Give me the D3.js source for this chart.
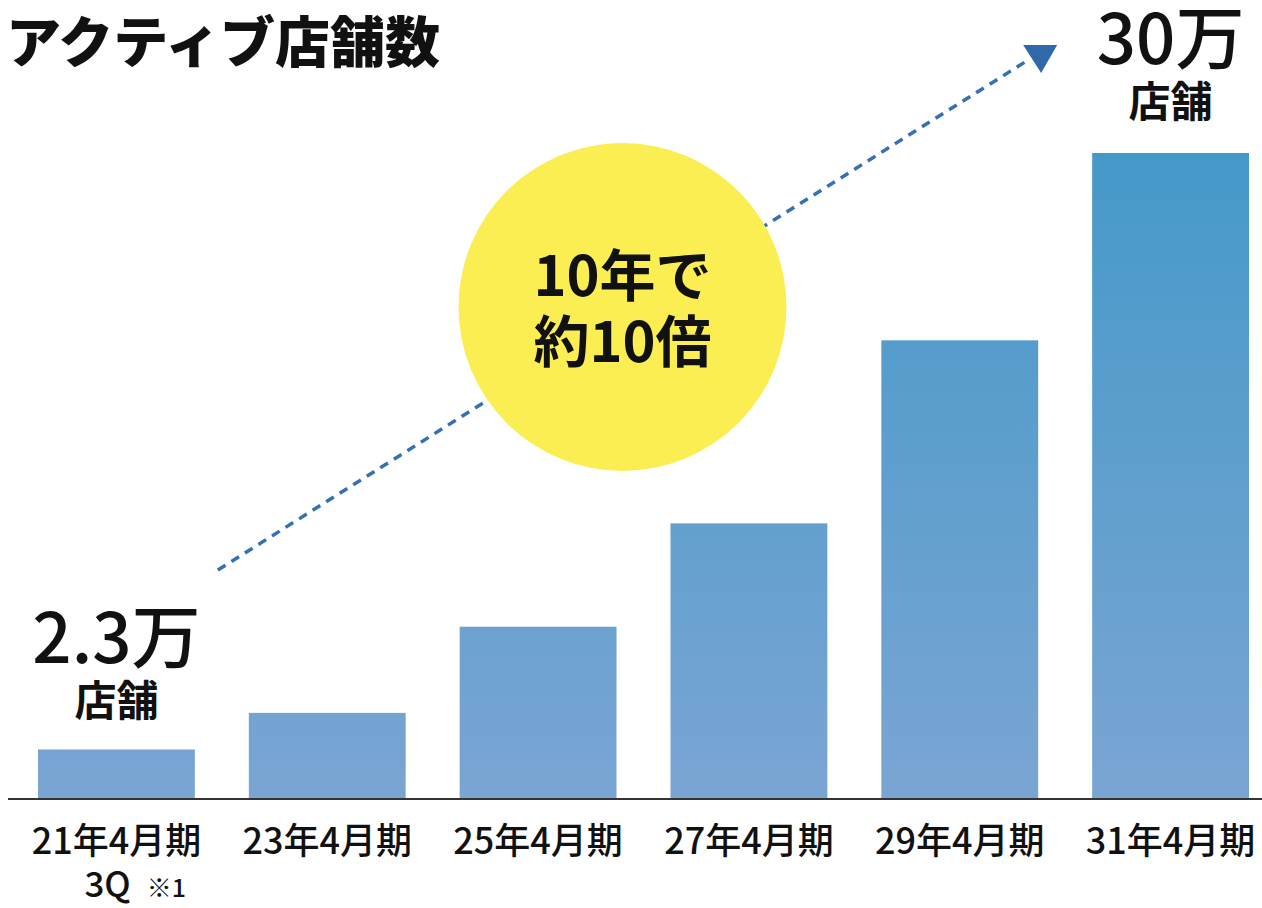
<!DOCTYPE html>
<html>
<head>
<meta charset="utf-8">
<script src="https://cdn.jsdelivr.net/npm/d3@7"></script>
<style>
  body { margin: 0; background: #fff; }
  text { font-family: "Noto Sans CJK JP", "Noto Sans", sans-serif; fill: #111; }
</style>
</head>
<body>
<div id="chart-area"></div>
<script>
// data (値は万店舗)
const categories = ["21年4月期", "23年4月期", "25年4月期", "27年4月期", "29年4月期", "31年4月期"]
const subLabels = ["3Q", "", "", "", "", ""]
const values = [2.3, 4.0, 8.0, 12.8, 21.3, 30]
const firstLabel = ["2.3万", "店舗"]
const lastLabel = ["30万", "店舗"]
const bubbleLines = ["10年で", "約10倍"]
const title = "アクティブ店舗数"

function drawChart() {
    const svgWidth = 1262
    const svgHeight = 908
    const margin = { left: 11, right: -14, top: 153, bottom: 109 }
    const chartHeight = svgHeight - margin.top - margin.bottom

    const svg = d3.select("#chart-area")
      .append("svg")
      .attr("width", svgWidth)
      .attr("height", svgHeight)

    const xScale = d3.scaleBand()
        .domain(categories)
        .range([margin.left, svgWidth - margin.right])
        .paddingInner(0.256)
        .paddingOuter(0.128)

    const yScale = d3.scaleLinear()
        .domain([0, d3.max(values)])
        .range([margin.top + chartHeight, margin.top])

    const baseY = yScale(0)

    // gradient: darker/bluer at top
    const grad = svg.append("defs").append("linearGradient")
        .attr("id", "barGrad")
        .attr("gradientUnits", "userSpaceOnUse")
        .attr("x1", 0).attr("x2", 0)
        .attr("y1", yScale(30)).attr("y2", baseY)
    grad.append("stop").attr("offset", "0%").attr("stop-color", "#4599c9")
    grad.append("stop").attr("offset", "100%").attr("stop-color", "#7aa5d3")

    svg.selectAll("rect.bar")
      .data(values)
      .join("rect")
        .attr("class", "bar")
        .attr("x", (d, i) => xScale(categories[i]))
        .attr("y", d => yScale(d))
        .attr("width", xScale.bandwidth())
        .attr("height", d => baseY - yScale(d))
        .attr("fill", "url(#barGrad)")

    // baseline
    svg.append("line")
        .attr("x1", 8).attr("x2", svgWidth)
        .attr("y1", baseY).attr("y2", baseY)
        .attr("stroke", "#333")
        .attr("stroke-width", 2)

    // category labels
    const xAxis = svg.append("g")
        .attr("transform", `translate(0,${baseY})`)
        .call(d3.axisBottom(xScale).tickSize(0).tickPadding(0))
    xAxis.select(".domain").remove()
    xAxis.selectAll(".tick text")
        .attr("y", 55)
        .attr("dy", null)
        .style("font-size", "36px")
        .style("font-weight", 500)
        .style("font-family", "'Noto Sans CJK JP', sans-serif")
        .attr("fill", "#111")

    const sub = svg.append("text")
        .attr("x", xScale(categories[0]) + xScale.bandwidth() / 2 - 32)
        .attr("y", baseY + 98)
    sub.append("tspan")
        .style("font-size", "35px")
        .style("font-weight", 500)
        .text(subLabels[0])
    sub.append("tspan")
        .attr("dx", 16)
        .style("font-size", "25px")
        .style("font-weight", 500)
        .text("※1")

    // title
    svg.append("text")
        .attr("x", 6)
        .attr("y", 62)
        .style("font-size", "55px")
        .style("font-weight", 900)
        .text(title)

    // end labels above first and last bar
    function endLabel(i, lines, bigY) {
        const cx = xScale(categories[i]) + xScale.bandwidth() / 2
        svg.append("text")
            .attr("x", cx).attr("y", bigY)
            .attr("text-anchor", "middle")
            .style("font-size", "69px")
            .style("font-weight", 500)
            .text(lines[0])
        svg.append("text")
            .attr("x", cx).attr("y", bigY + 53)
            .attr("text-anchor", "middle")
            .style("font-size", "42px")
            .style("font-weight", 700)
            .text(lines[1])
    }
    endLabel(0, firstLabel, 663)
    endLabel(categories.length - 1, lastLabel, 64)

    // dashed trend arrow from first label to last label
    const x0 = xScale(categories[0]) + xScale.bandwidth() + 23
    const y0 = 570
    const x1 = xScale(categories[categories.length - 1]) - 64
    const y1 = 60
    svg.append("line")
        .attr("x1", x0).attr("y1", y0)
        .attr("x2", x1).attr("y2", y1)
        .attr("stroke", "#3570b0")
        .attr("stroke-width", 3.5)
        .attr("stroke-dasharray", "9 7")
        .attr("stroke-linecap", "butt")
    svg.append("path")
        .attr("d", `M${x1 - 5},${y1 - 15} L${x1 + 29},${y1 - 15} L${x1 + 13},${y1 + 13} Z`)
        .attr("fill", "#3068a8")

    // yellow bubble
    const bx = (xScale(categories[2]) + xScale(categories[3]) + xScale.bandwidth()) / 2 - 21
    const by = 307
    svg.append("circle")
        .attr("cx", bx).attr("cy", by).attr("r", 164)
        .attr("fill", "#fbee52")
    svg.selectAll("text.bubble")
      .data(bubbleLines)
      .join("text")
        .attr("class", "bubble")
        .attr("x", bx)
        .attr("y", (d, i) => by - 11 + i * 66)
        .attr("text-anchor", "middle")
        .style("font-size", "56px")
        .style("font-weight", 700)
        .text(d => d)
}

drawChart()
</script>
</body>
</html>
